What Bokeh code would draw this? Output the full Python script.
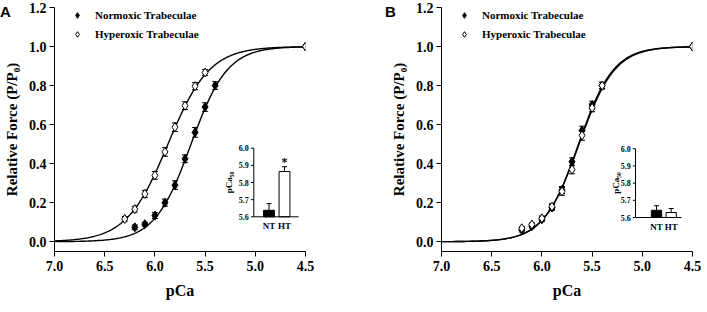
import numpy as np
from bokeh.plotting import figure
from bokeh.models import (Range1d, ColumnDataSource, Whisker, TeeHead, FixedTicker,
                          Legend, LegendItem, PrintfTickFormatter, Div)
from bokeh.layouts import row, column
from bokeh.embed import file_html
from bokeh.resources import INLINE
from bokeh.core.properties import value

# ---------------- data ----------------
x_ticks = [7.0, 6.5, 6.0, 5.5, 5.0, 4.5]
y_ticks = [0.0, 0.2, 0.4, 0.6, 0.8, 1.0, 1.2]

# Panel A
a_norm_pca = [6.2, 6.1, 6.0, 5.9, 5.8, 5.7, 5.6, 5.5, 5.4, 4.5]
a_norm_force = [0.074, 0.090, 0.134, 0.200, 0.290, 0.425, 0.560, 0.690, 0.800, 1.0]
a_norm_sem = [0.012, 0.010, 0.015, 0.018, 0.022, 0.020, 0.025, 0.022, 0.020, 0.0]
a_hyp_pca = [6.3, 6.2, 6.1, 6.0, 5.9, 5.8, 5.7, 5.6, 5.5, 4.5]
a_hyp_force = [0.117, 0.167, 0.245, 0.340, 0.460, 0.587, 0.697, 0.797, 0.867, 1.0]
a_hyp_sem = [0.012, 0.015, 0.018, 0.020, 0.022, 0.022, 0.020, 0.018, 0.015, 0.0]
a_norm_fit = (5.64, 2.4)   # pCa50, Hill coefficient
a_hyp_fit = (5.87, 2.1)

# Panel B
b_norm_pca = [6.2, 6.1, 6.0, 5.9, 5.8, 5.7, 5.6, 5.5, 5.4, 4.5]
b_norm_force = [0.060, 0.080, 0.115, 0.175, 0.265, 0.410, 0.570, 0.700, 0.800, 1.0]
b_norm_sem = [0.010, 0.010, 0.012, 0.015, 0.018, 0.020, 0.022, 0.020, 0.018, 0.0]
b_hyp_pca = [6.2, 6.1, 6.0, 5.9, 5.8, 5.7, 5.6, 5.5, 5.4, 4.5]
b_hyp_force = [0.069, 0.088, 0.120, 0.180, 0.258, 0.370, 0.545, 0.686, 0.800, 1.0]
b_hyp_sem = [0.008, 0.008, 0.012, 0.015, 0.020, 0.022, 0.025, 0.020, 0.015, 0.0]
b_norm_fit = (5.635, 2.5)
b_hyp_fit = (5.63, 2.45)

# Insets (pCa50)
inset_cats = ["NT", "HT"]
inset_ticks = [5.6, 5.7, 5.8, 5.9, 6.0]
inset_a_mean = [5.638, 5.864]
inset_a_sem = [0.039, 0.028]
inset_b_mean = [5.642, 5.629]
inset_b_sem = [0.026, 0.023]
inset_a_sig = ["", "*"]

legend_labels = ["Normoxic Trabeculae", "Hyperoxic Trabeculae"]
panel_letters = ["A", "B"]

# ---------------- layout constants ----------------
SERIF = "Liberation Serif"
FRAME_W, FRAME_H = 251, 244
TOP, BOTTOM, LEFT = 7, 53, 51
Y_RANGE = (-0.05, 1.2)
FIG_A_W, FIG_B_W, FIG_H = 384, 314, 304


def hill(pca, pca50, n):
    return 1.0 / (1.0 + 10 ** (n * (np.asarray(pca) - pca50)))


def make_panel(right_border, norm, hyp, nfit, hfit, inset_mean, inset_sem,
               inset_sig, inset_geom):
    p = figure(frame_width=FRAME_W, frame_height=FRAME_H,
               min_border_left=LEFT, min_border_right=right_border,
               min_border_top=TOP, min_border_bottom=BOTTOM,
               x_range=Range1d(7.0, 4.5), y_range=Range1d(*Y_RANGE),
               output_backend="svg", toolbar_location=None,
               background_fill_color="white", border_fill_color="white")
    p.outline_line_color = None
    p.grid.visible = False

    for ax in (p.xaxis[0], p.yaxis[0]):
        ax.axis_line_color = "black"
        ax.major_tick_line_color = "black"
        ax.minor_tick_line_color = None
        ax.major_tick_in = 0
        ax.major_tick_out = 5
        ax.major_label_text_font = SERIF
        ax.major_label_text_font_style = "bold"
        ax.major_label_text_font_size = "14px"
        ax.major_label_text_color = "black"
        ax.axis_label_text_font = SERIF
        ax.axis_label_text_font_style = "bold"
        ax.axis_label_text_color = "black"
        ax.formatter = PrintfTickFormatter(format="%.1f")
    p.xaxis.ticker = FixedTicker(ticks=x_ticks)
    p.yaxis.ticker = FixedTicker(ticks=y_ticks)
    p.xaxis.major_label_standoff = 4
    p.yaxis.major_label_standoff = 3
    p.xaxis.axis_label = "pCa"
    p.xaxis.axis_label_text_font_size = "16px"
    p.xaxis.axis_label_standoff = 8
    p.yaxis.axis_label = "Relative Force (P/P\u2080)"
    p.yaxis.axis_label_text_font_size = "15px"
    p.yaxis.axis_label_standoff = 6

    # fitted curves
    xs = np.linspace(7.0, 4.5, 300)
    p.line(xs, hill(xs, *nfit), line_color="black", line_width=1.4)
    p.line(xs, hill(xs, *hfit), line_color="black", line_width=1.4)

    renderers = []
    for (pca, force, sem), fill in ((norm, "black"), (hyp, "white")):
        keep = [i for i, s in enumerate(sem) if s > 0]
        src = ColumnDataSource(dict(
            x=[pca[i] for i in keep],
            up=[force[i] + sem[i] for i in keep],
            lo=[force[i] - sem[i] for i in keep]))
        p.add_layout(Whisker(source=src, base="x", upper="up", lower="lo",
                             line_color="black", line_width=1,
                             upper_head=TeeHead(size=6, line_width=1, line_color="black"),
                             lower_head=TeeHead(size=6, line_width=1, line_color="black")))
        r = p.scatter(pca, force, marker="diamond", size=9, fill_color=fill,
                      line_color="black", line_width=1)
        renderers.append(r)

    legend = Legend(items=[LegendItem(label=legend_labels[0], renderers=[renderers[0]]),
                           LegendItem(label=legend_labels[1], renderers=[renderers[1]])],
                    location=(16, 210), padding=0, margin=0, spacing=5,
                    glyph_width=14, glyph_height=14, label_height=14,
                    label_standoff=11, border_line_color=None,
                    background_fill_alpha=0,
                    label_text_font=SERIF, label_text_font_style="bold",
                    label_text_font_size="11px", label_text_color="black")
    p.add_layout(legend)

    # ---- inset (pCa50 bar chart) via extra ranges ----
    ix0, ix1, iy0, iy1, axis_x, axis_end, ylab_x = inset_geom
    p.extra_x_ranges = {"ix": Range1d(ix0, ix1)}
    p.extra_y_ranges = {"iy": Range1d(iy0, iy1)}
    kw = dict(x_range_name="ix", y_range_name="iy")
    base = inset_ticks[0]
    pos = [i + 1 for i in range(len(inset_cats))]
    esrc = ColumnDataSource(dict(x=pos, lo=inset_mean,
                                 up=[m + s for m, s in zip(inset_mean, inset_sem)]))
    p.add_layout(Whisker(source=esrc, base="x", upper="up", lower="lo",
                         line_color="black", line_width=1,
                         upper_head=TeeHead(size=5, line_width=1, line_color="black"),
                         lower_head=None, **kw))
    p.vbar(x=pos, top=inset_mean, bottom=base, width=0.7,
           fill_color=["black", "white"], line_color="black", line_width=1, **kw)
    p.segment(x0=[axis_x], y0=[base], x1=[axis_x], y1=[inset_ticks[-1]],
              line_color="black", line_width=1, **kw)
    p.segment(x0=[axis_x], y0=[base], x1=[axis_end], y1=[base],
              line_color="black", line_width=1, **kw)
    p.segment(x0=[axis_x - 0.18] * len(inset_ticks), y0=inset_ticks,
              x1=[axis_x] * len(inset_ticks), y1=inset_ticks,
              line_color="black", line_width=1, **kw)
    p.text(x=[axis_x - 0.33] * len(inset_ticks), y=inset_ticks,
           text=["%.1f" % t for t in inset_ticks], text_align="right",
           text_baseline="middle", text_font=value(SERIF), text_font_style="bold",
           text_font_size="8px", text_color="black", **kw)
    p.text(x=pos, y=[base - 0.025] * len(pos), text=inset_cats, text_align="center",
           text_baseline="top", text_font=value(SERIF), text_font_style="bold",
           text_font_size="9px", text_color="black", **kw)
    p.text(x=[ylab_x], y=[5.8], text=["pCa\u2085\u2080"], angle=np.pi / 2,
           text_align="center", text_baseline="middle", text_font=value(SERIF),
           text_font_style="bold", text_font_size="9px", text_color="black", **kw)
    sig_y = [m + s + 0.03 for m, s in zip(inset_mean, inset_sem)]
    p.text(x=pos, y=sig_y, text=inset_sig, text_align="center", text_baseline="middle",
           text_font=value(SERIF), text_font_style="bold", text_font_size="12px",
           text_color="black", **kw)
    return p


def inset_geometry(frame_left_px, nt_center_px, px_per_cat, axis_px, axis_end_px,
                   ylab_px, base_px, px_per_unit):
    frame_right_px = frame_left_px + FRAME_W
    frame_bottom_px = 8 + TOP + FRAME_H
    to_val = lambda px: 1 + (px - nt_center_px) / px_per_cat
    ix0, ix1 = to_val(frame_left_px), to_val(frame_right_px)
    iy0 = inset_ticks[0] - (frame_bottom_px - base_px) / px_per_unit
    iy1 = iy0 + FRAME_H / px_per_unit
    return ix0, ix1, iy0, iy1, to_val(axis_px), to_val(axis_end_px), to_val(ylab_px)


geomA = inset_geometry(59, 273.5, 15.5, 258.3, 303.0, 233.0, 224.3, 171.5)
geomB = inset_geometry(443, 658.0, 14.7, 637.0, 683.0, 617.0, 225.0, 172.0)

pA = make_panel(FIG_A_W - LEFT - FRAME_W,
                (a_norm_pca, a_norm_force, a_norm_sem), (a_hyp_pca, a_hyp_force, a_hyp_sem),
                a_norm_fit, a_hyp_fit, inset_a_mean, inset_a_sem, inset_a_sig, geomA)
pB = make_panel(FIG_B_W - LEFT - FRAME_W,
                (b_norm_pca, b_norm_force, b_norm_sem), (b_hyp_pca, b_hyp_force, b_hyp_sem),
                b_norm_fit, b_hyp_fit, inset_b_mean, inset_b_sem, ["", ""], geomB)

# panel letters: an overlay placed over the top-left corner of each panel
letter_x = [0, FIG_A_W + 1]
spans = "".join(
    '<span style="position:absolute;left:%dpx;top:4px;font-family:\'Liberation Sans\';'
    'font-weight:bold;font-size:15px;line-height:15px;color:black">%s</span>' % (lx, t)
    for lx, t in zip(letter_x, panel_letters))
letters = Div(text='<div style="position:relative;width:%dpx;height:22px">%s</div>'
              % (FIG_A_W + FIG_B_W, spans),
              width=FIG_A_W + FIG_B_W, height=22, margin=(-FIG_H, 0, 0, 0))

layout = column(row(pA, pB, spacing=0), letters, spacing=0)
open("out.html", "w").write(file_html(layout, INLINE))
